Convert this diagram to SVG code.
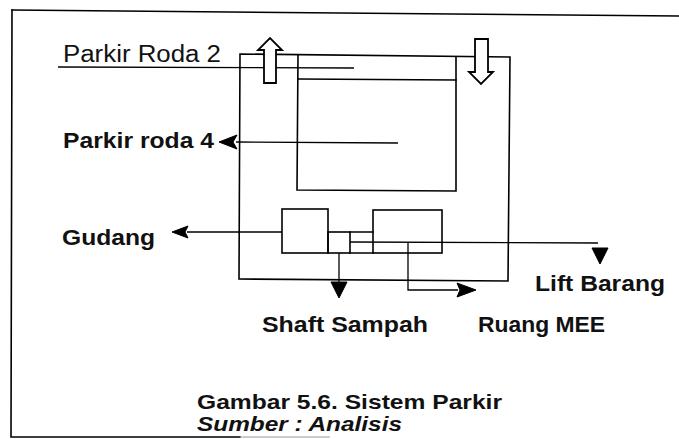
<svg xmlns="http://www.w3.org/2000/svg" width="679" height="439" viewBox="0 0 679 439">
<style>
.ln{fill:none;stroke:#000;stroke-width:1.6;stroke-linecap:square}
.thin{fill:none;stroke:#000;stroke-width:1.3}
.ah{fill:#000;stroke:#000;stroke-width:1}
.blk{fill:#fff;stroke:#000;stroke-width:1.8;stroke-linejoin:miter}
.t{font-family:"Liberation Sans",Arial,sans-serif;fill:#111}
.b{font-weight:bold}
</style>
<rect width="679" height="439" fill="#fff"/>
<g id="frame">
<path class="ln" d="M12 10 L679 16"/>
<path class="ln" d="M12 10 L11 437 L240 437"/>
<path d="M240 437 L330 437" stroke="#999" stroke-width="1.2" fill="none"/>
</g>
<g id="building">
<polygon class="ln" points="240,54 510,57 508,281 239,279"/>
<polyline class="ln" points="298,55 297,190 456,191 456,57"/>
<path class="ln" d="M298 79 L456 80"/>
</g>
<g id="lower-rooms">
<rect class="ln" x="282" y="209" width="46" height="44"/>
<rect class="ln" x="328" y="232" width="22" height="21"/>
<rect class="ln" x="373" y="210" width="69" height="43"/>
<path class="ln" d="M350 232 L373 232 M350 253 L373 253"/>
</g>
<g id="connectors">
<path class="thin" d="M58 67 L354 68"/>
<path class="thin" d="M236 142 L398 143"/>
<polygon class="ah" points="219,142 237,135 233,142 237,149"/>
<path class="thin" d="M187 232 L282 232"/>
<polygon class="ah" points="172,232 188,226 185,232 188,238"/>
<path class="thin" d="M339 253 L339 284"/>
<polygon class="ah" points="331,282 347,282 339,298"/>
<path class="thin" d="M408 243 L408 290 L458 290"/>
<polygon class="ah" points="457,283 476,290 457,297 460,290"/>
<path class="thin" d="M350 242 L598 243"/>
<polygon class="ah" points="592,248 608,248 600,264 "/>
</g>
<g id="arrow-up">
<polygon class="blk" points="264,83 276,83 276,50 282,50 270,38 258,50 264,50"/>
</g>
<g id="arrow-down">
<polygon class="blk" points="475,39 488,39 488,72 493,72 481,84 469,72 475,72"/>
</g>
<g id="labels">
<text class="t" x="63" y="62" font-size="23" textLength="158" lengthAdjust="spacingAndGlyphs">Parkir Roda 2</text>
<text class="t b" x="63" y="148" font-size="22" textLength="151" lengthAdjust="spacingAndGlyphs">Parkir roda 4</text>
<text class="t" x="62" y="245" font-size="22" textLength="93" lengthAdjust="spacingAndGlyphs" font-weight="600">Gudang</text>
<text class="t b" x="262" y="332" font-size="22" textLength="166" lengthAdjust="spacingAndGlyphs">Shaft Sampah</text>
<text class="t b" x="478" y="332" font-size="22" textLength="127" lengthAdjust="spacingAndGlyphs">Ruang MEE</text>
<text class="t b" x="535" y="291" font-size="22" textLength="130" lengthAdjust="spacingAndGlyphs">Lift Barang</text>
<text class="t b" x="197" y="409" font-size="21" textLength="305" lengthAdjust="spacingAndGlyphs">Gambar 5.6. Sistem Parkir</text>
<text class="t b" x="197" y="431" font-size="21" font-style="italic" textLength="205" lengthAdjust="spacingAndGlyphs">Sumber : Analisis</text>
</g>
</svg>
